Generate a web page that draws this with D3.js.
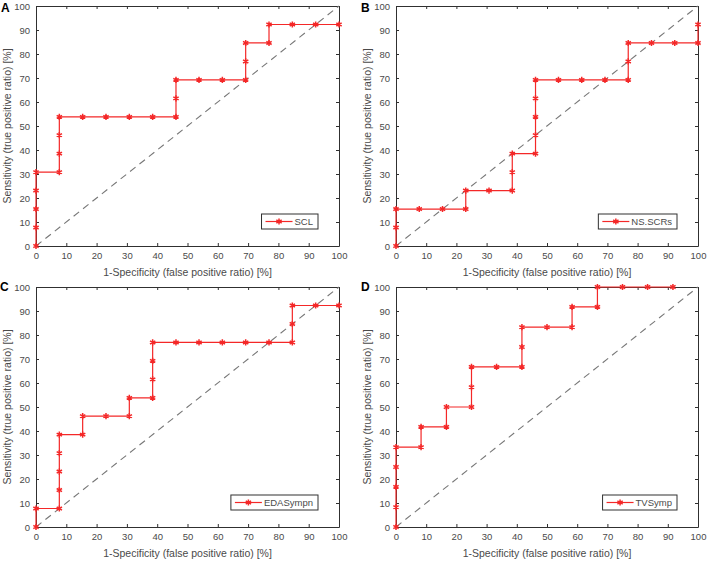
<!DOCTYPE html>
<html>
<head>
<meta charset="utf-8">
<script src="https://cdn.jsdelivr.net/npm/d3@7"></script>
<style>
  body { margin: 0; background: #fff; }
  svg { display: block; font-family: "Liberation Sans", Arial, sans-serif; }
</style>
</head>
<body>
<div id="chart-area"></div>
<script>
// ROC curves, values in percent
var fprA = [0, 0, 0, 0, 0, 7.7, 7.7, 7.7, 7.7, 15.4, 23.1, 30.8, 38.5, 46.2, 46.2, 46.2, 53.8, 61.5, 69.2, 69.2, 69.2, 76.9, 76.9, 84.6, 92.3, 100];
var tprA = [0, 7.7, 15.4, 23.1, 30.8, 30.8, 38.5, 46.2, 53.8, 53.8, 53.8, 53.8, 53.8, 53.8, 61.5, 69.2, 69.2, 69.2, 69.2, 76.9, 84.6, 84.6, 92.3, 92.3, 92.3, 92.3];

var fprB = [0, 0, 0, 7.7, 15.4, 23.1, 23.1, 30.8, 38.5, 38.5, 38.5, 46.2, 46.2, 46.2, 46.2, 46.2, 53.8, 61.5, 69.2, 76.9, 76.9, 76.9, 84.6, 92.3, 100, 100];
var tprB = [0, 7.7, 15.4, 15.4, 15.4, 15.4, 23.1, 23.1, 23.1, 30.8, 38.5, 38.5, 46.2, 53.8, 61.5, 69.2, 69.2, 69.2, 69.2, 69.2, 76.9, 84.6, 84.6, 84.6, 84.6, 92.3];

var fprC = [0, 0, 7.7, 7.7, 7.7, 7.7, 7.7, 15.4, 15.4, 23.1, 30.8, 30.8, 38.5, 38.5, 38.5, 38.5, 46.2, 53.8, 61.5, 69.2, 76.9, 84.6, 84.6, 84.6, 92.3, 100];
var tprC = [0, 7.7, 7.7, 15.4, 23.1, 30.8, 38.5, 38.5, 46.2, 46.2, 46.2, 53.8, 53.8, 61.5, 69.2, 76.9, 76.9, 76.9, 76.9, 76.9, 76.9, 76.9, 84.6, 92.3, 92.3, 92.3];

var fprD = [0, 0, 0, 0, 0, 8.3, 8.3, 16.7, 16.7, 25, 25, 25, 33.3, 41.7, 41.7, 41.7, 50, 58.3, 58.3, 66.7, 66.7, 75, 83.3, 91.7];
var tprD = [0, 8.3, 16.7, 25, 33.3, 33.3, 41.7, 41.7, 50, 50, 58.3, 66.7, 66.7, 66.7, 75, 83.3, 83.3, 83.3, 91.7, 91.7, 100, 100, 100, 100];

var tickValues = [0, 10, 20, 30, 40, 50, 60, 70, 80, 90, 100];
var panelLetters = ["A", "B", "C", "D"];
var legendNames = ["SCL", "NS.SCRs", "EDASympn", "TVSymp"];
var xTitle = "1-Specificity (false positive ratio) [%]";
var yTitle = "Sensitivity (true positive ratio) [%]";

var total_width = 708;
var total_height = 561;

var svg = d3.select('#chart-area').append('svg')
            .attr("width", total_width)
            .attr("height", total_height);

// plot boxes for the four panels
var boxes = [
  {left: 36, right: 339, top: 6, bottom: 246, lx: 1, ly: 12},
  {left: 396, right: 698, top: 6, bottom: 246, lx: 361, ly: 12},
  {left: 36, right: 339, top: 287, bottom: 527, lx: 0, ly: 291},
  {left: 396, right: 698, top: 287, bottom: 527, lx: 361, ly: 291}
];

var series = [
  [fprA, tprA], [fprB, tprB], [fprC, tprC], [fprD, tprD]
];

var axisColor = "#303030";
var labelColor = "#4a4a4a";
var red = "#f42828";

boxes.forEach(function(b, i) {
  var x = d3.scaleLinear().domain([0, 100]).range([b.left, b.right]);
  var y = d3.scaleLinear().domain([0, 100]).range([b.bottom, b.top]);
  var g = svg.append("g");

  // axes (ticks inside, mirrored on top/right)
  var xBottom = d3.axisBottom(x).tickValues(tickValues).tickSizeInner(-3).tickSizeOuter(0).tickPadding(6);
  var xTop = d3.axisTop(x).tickValues(tickValues).tickSizeInner(-3).tickSizeOuter(0).tickFormat("");
  var yLeft = d3.axisLeft(y).tickValues(tickValues).tickSizeInner(-3).tickSizeOuter(0).tickPadding(6);
  var yRight = d3.axisRight(y).tickValues(tickValues).tickSizeInner(-3).tickSizeOuter(0).tickFormat("");

  var axes = [
    g.append("g").attr("transform", "translate(0," + b.bottom + ")").call(xBottom),
    g.append("g").attr("transform", "translate(0," + b.top + ")").call(xTop),
    g.append("g").attr("transform", "translate(" + b.left + ",0)").call(yLeft),
    g.append("g").attr("transform", "translate(" + b.right + ",0)").call(yRight)
  ];
  axes.forEach(function(a) {
    a.selectAll("path").attr("stroke", axisColor).attr("stroke-width", 1);
    a.selectAll("line").attr("stroke", axisColor);
    a.selectAll("text").attr("fill", labelColor).style("font-size", "9.5px");
  });

  // chance diagonal
  g.append("line")
    .attr("x1", x(0)).attr("y1", y(0))
    .attr("x2", x(100)).attr("y2", y(100))
    .attr("stroke", "#777")
    .attr("stroke-width", 1.1)
    .attr("stroke-dasharray", "7,5");

  // ROC curve
  var fpr = series[i][0], tpr = series[i][1];
  var pts = fpr.map(function(v, k) { return [v, tpr[k]]; });
  var line = d3.line().x(function(d) { return x(d[0]); }).y(function(d) { return y(d[1]); });
  g.append("path")
    .attr("d", line(pts))
    .attr("fill", "none")
    .attr("stroke", red)
    .attr("stroke-width", 1.2);

  var star = d3.symbol().type(d3.symbolAsterisk).size(26);
  g.selectAll(".mk").data(pts).enter().append("path")
    .attr("transform", function(d) { return "translate(" + x(d[0]) + "," + y(d[1]) + ")"; })
    .attr("d", star)
    .attr("fill", "none")
    .attr("stroke", red)
    .attr("stroke-width", 1.5);

  // axis titles
  g.append("text")
    .attr("x", (b.left + b.right) / 2)
    .attr("y", b.bottom + 30)
    .attr("text-anchor", "middle")
    .attr("fill", labelColor)
    .style("font-size", "10.5px")
    .text(xTitle);

  g.append("text")
    .attr("transform", "translate(" + (b.left - 25) + "," + ((b.top + b.bottom) / 2) + ") rotate(-90)")
    .attr("text-anchor", "middle")
    .attr("fill", labelColor)
    .style("font-size", "10.5px")
    .text(yTitle);

  // panel letter
  g.append("text")
    .attr("x", b.lx).attr("y", b.ly)
    .attr("fill", "#000")
    .style("font-size", "12px")
    .style("font-weight", "bold")
    .text(panelLetters[i]);

  // legend, bottom right inside the box
  var leg = g.append("g");
  var lt = leg.append("text")
    .attr("fill", labelColor)
    .style("font-size", "9.5px")
    .text(legendNames[i]);
  var tw = lt.node().getComputedTextLength();
  var lw = 34 + tw + 4, lh = 15;
  var lx0 = b.right - 21 - lw, ly0 = b.bottom - 17 - lh;
  leg.insert("rect", "text")
    .attr("x", lx0).attr("y", ly0)
    .attr("width", lw).attr("height", lh)
    .attr("fill", "#fff")
    .attr("stroke", axisColor)
    .attr("stroke-width", 1);
  leg.insert("line", "text")
    .attr("x1", lx0 + 4).attr("x2", lx0 + 31)
    .attr("y1", ly0 + lh / 2).attr("y2", ly0 + lh / 2)
    .attr("stroke", red).attr("stroke-width", 1.2);
  leg.insert("path", "text")
    .attr("transform", "translate(" + (lx0 + 17.5) + "," + (ly0 + lh / 2) + ")")
    .attr("d", star)
    .attr("fill", "none")
    .attr("stroke", red)
    .attr("stroke-width", 1.5);
  lt.attr("x", lx0 + 33).attr("y", ly0 + lh / 2 + 3.5);
});
</script>
</body>
</html>
